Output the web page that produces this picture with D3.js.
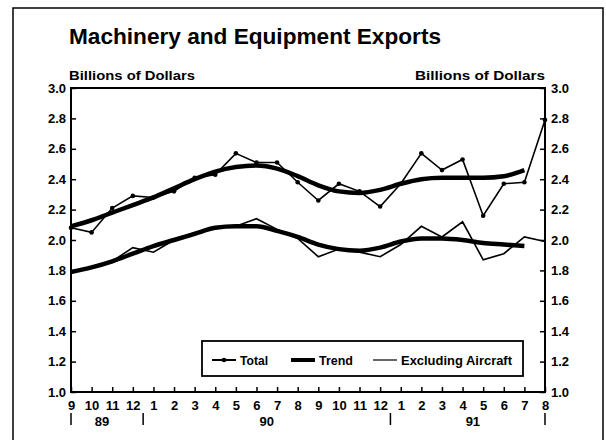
<!DOCTYPE html>
<html>
<head>
<meta charset="utf-8">
<script src="https://cdn.jsdelivr.net/npm/d3@7"></script>
<style>
  body { margin: 0; background: #fff; }
  text { font-family: "Liberation Sans", Arial, sans-serif; font-weight: bold; fill: #000; }
</style>
</head>
<body>
<script>
// Month labels, Sep 1989 .. Aug 1991
const months = [9, 10, 11, 12, 1, 2, 3, 4, 5, 6, 7, 8, 9, 10, 11, 12, 1, 2, 3, 4, 5, 6, 7, 8];
const years = [
  { label: '89', at: 1.5 },
  { label: '90', at: 9.5 },
  { label: '91', at: 19.5 }
];
const yearMarks = [0, 3.5, 15.5, 23];

// Series values (billions of dollars)
const total = [2.08, 2.05, 2.21, 2.29, 2.28, 2.32, 2.41, 2.43, 2.57, 2.51, 2.51, 2.38,
  2.26, 2.37, 2.32, 2.22, 2.37, 2.57, 2.46, 2.53, 2.16, 2.37, 2.38, 2.79];
const totalTrend = [2.09, 2.13, 2.18, 2.23, 2.28, 2.34, 2.40, 2.45, 2.48, 2.49, 2.47, 2.42,
  2.36, 2.32, 2.31, 2.33, 2.37, 2.40, 2.41, 2.41, 2.41, 2.42, 2.46];
const exAircraft = [1.79, 1.82, 1.86, 1.95, 1.92, 2.00, 2.05, 2.08, 2.09, 2.14, 2.07, 2.01,
  1.89, 1.94, 1.92, 1.89, 1.97, 2.09, 2.02, 2.12, 1.87, 1.91, 2.02, 1.99];
const exTrend = [1.79, 1.82, 1.86, 1.91, 1.96, 2.00, 2.04, 2.08, 2.09, 2.09, 2.06, 2.02,
  1.97, 1.94, 1.93, 1.95, 1.99, 2.01, 2.01, 2.00, 1.98, 1.97, 1.96];

const yTicks = [1.0, 1.2, 1.4, 1.6, 1.8, 2.0, 2.2, 2.4, 2.6, 2.8, 3.0];

const W = 606, H = 440;
const plotL = 71, plotR = 545, plotT = 88, plotB = 392;

const svg = d3.select('body').append('svg')
  .attr('width', W)
  .attr('height', H);

// outer frame
svg.append('rect')
  .attr('x', 13).attr('y', 8)
  .attr('width', 590).attr('height', 440)
  .attr('fill', 'none').attr('stroke', '#000').attr('stroke-width', 1.5);

const x = d3.scaleLinear().domain([0, months.length - 1]).range([plotL, plotR]);
const y = d3.scaleLinear().domain([1, 3]).range([plotB, plotT]);

// title + unit labels
svg.append('text')
  .attr('x', 69).attr('y', 44)
  .attr('font-size', 22)
  .attr('textLength', 372).attr('lengthAdjust', 'spacingAndGlyphs')
  .text('Machinery and Equipment Exports');

svg.append('text')
  .attr('x', 69).attr('y', 80)
  .attr('font-size', 13)
  .attr('textLength', 126).attr('lengthAdjust', 'spacingAndGlyphs')
  .text('Billions of Dollars');

svg.append('text')
  .attr('x', 415).attr('y', 80)
  .attr('font-size', 13)
  .attr('textLength', 130).attr('lengthAdjust', 'spacingAndGlyphs')
  .text('Billions of Dollars');

// axes (ticks point inward)
const fmt = d3.format('.1f');
const gL = svg.append('g').attr('transform', `translate(${plotL},0)`)
  .call(d3.axisLeft(y).tickValues(yTicks).tickFormat(fmt).tickSize(-5).tickPadding(5));
const gR = svg.append('g').attr('transform', `translate(${plotR},0)`)
  .call(d3.axisRight(y).tickValues(yTicks).tickFormat(fmt).tickSize(-5).tickPadding(6));
const gB = svg.append('g').attr('transform', `translate(0,${plotB})`)
  .call(d3.axisBottom(x).tickValues(d3.range(months.length)).tickFormat(i => months[i]).tickSize(-5).tickPadding(9));

[gL, gR, gB].forEach(g => {
  g.select('.domain').remove();
  g.selectAll('line').attr('stroke', '#000').attr('stroke-width', 1.5);
  g.selectAll('text').attr('font-size', 13).attr('font-family', '"Liberation Sans", Arial, sans-serif').attr('font-weight', 'bold');
});

// plot frame
svg.append('rect')
  .attr('x', plotL).attr('y', plotT)
  .attr('width', plotR - plotL).attr('height', plotB - plotT)
  .attr('fill', 'none').attr('stroke', '#000').attr('stroke-width', 2);

// year separators and labels
svg.selectAll('.yearmark')
  .data(yearMarks)
  .enter()
  .append('line')
  .attr('x1', d => x(d)).attr('x2', d => x(d))
  .attr('y1', 413).attr('y2', 425)
  .attr('stroke', '#000').attr('stroke-width', 1.5);

svg.selectAll('.yearlabel')
  .data(years)
  .enter()
  .append('text')
  .attr('x', d => x(d.at))
  .attr('y', 426)
  .attr('text-anchor', 'middle')
  .attr('font-size', 13)
  .text(d => d.label);

// lines
const line = d3.line().x((d, i) => x(i)).y(d => y(d));
const smooth = d3.line().x((d, i) => x(i)).y(d => y(d)).curve(d3.curveMonotoneX);

svg.append('path').datum(totalTrend)
  .attr('d', smooth).attr('fill', 'none').attr('stroke', '#000').attr('stroke-width', 4.5);
svg.append('path').datum(exTrend)
  .attr('d', smooth).attr('fill', 'none').attr('stroke', '#000').attr('stroke-width', 4.5);
svg.append('path').datum(exAircraft)
  .attr('d', line).attr('fill', 'none').attr('stroke', '#000').attr('stroke-width', 1.6);
svg.append('path').datum(total)
  .attr('d', line).attr('fill', 'none').attr('stroke', '#000').attr('stroke-width', 1.6);
svg.selectAll('.dot')
  .data(total)
  .enter()
  .append('circle')
  .attr('cx', (d, i) => x(i)).attr('cy', d => y(d))
  .attr('r', 2.3).attr('fill', '#000');

// legend
const lg = svg.append('g');
lg.append('rect')
  .attr('x', 202).attr('y', 341)
  .attr('width', 321).attr('height', 35)
  .attr('fill', '#fff').attr('stroke', '#000').attr('stroke-width', 1.8);

const legendItems = [
  { label: 'Total', x0: 212, w: 2, dot: true, len: 28 },
  { label: 'Trend', x0: 291, w: 4, dot: false, len: 34 },
  { label: 'Excluding Aircraft', x0: 373, w: 1.2, dot: false, len: 111 }
];
legendItems.forEach(d => {
  lg.append('line')
    .attr('x1', d.x0).attr('x2', d.x0 + 24)
    .attr('y1', 360).attr('y2', 360)
    .attr('stroke', '#000').attr('stroke-width', d.w);
  if (d.dot) {
    lg.append('circle').attr('cx', d.x0 + 12).attr('cy', 360).attr('r', 2.3).attr('fill', '#000');
  }
  lg.append('text')
    .attr('x', d.x0 + 28).attr('y', 365)
    .attr('font-size', 12)
    .attr('textLength', d.len).attr('lengthAdjust', 'spacingAndGlyphs')
    .text(d.label);
});
</script>
</body>
</html>
